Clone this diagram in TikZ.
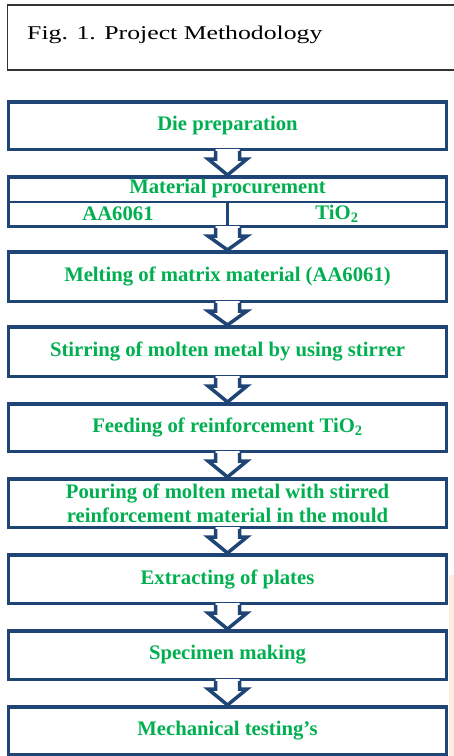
\documentclass[tikz,border=0pt]{standalone}
\usepackage{fontspec}
\setmainfont{Liberation Serif}
\usetikzlibrary{calc}
\definecolor{boxblue}{RGB}{31,68,118}
\definecolor{txtgreen}{RGB}{0,176,80}
\definecolor{peach}{RGB}{253,238,222}
\tikzset{
  boxline/.style={draw=boxblue, line width=3.5pt, line join=miter},
  stepbox/.style={boxline, fill=white, minimum width=438pt, minimum height=#1, inner sep=0pt},
  stepbox/.default=47.5pt,
  steptext/.style={text=txtgreen, font=\fontsize{20.7}{24}\selectfont\bfseries, align=center, inner sep=0pt},
  caption/.style={font=\fontsize{19.5}{23}\selectfont, anchor=base west, inner sep=0pt},
}
\newcommand\flowarr[2]{%
  \fill[white] ($(#1.south)+(-12,-2)$) -- ($(#1.south)+(-12,8)$) -- ($(#1.south)+(-19.5,8)$) -- (#2.north) -- ($(#1.south)+(19.5,8)$) -- ($(#1.south)+(12,8)$) -- ($(#1.south)+(12,-2)$) -- cycle;
  \draw[boxline] ($(#1.south)+(-12,0)$) -- ($(#1.south)+(-12,8)$) -- ($(#1.south)+(-19.5,8)$) -- (#2.north) -- ($(#1.south)+(19.5,8)$) -- ($(#1.south)+(12,8)$) -- ($(#1.south)+(12,0)$);
}
\begin{document}
\begin{tikzpicture}[x=1pt,y=-1pt]
\useasboundingbox (0,0) rectangle (454,756);
% faint background strip
\fill[peach] (449,575) rectangle (454,756);
% caption box (open at the right edge)
\draw[black!80, line width=1.2pt] (454,5) -- (7.5,5) -- (7.5,70) -- (454,70);
\node[caption] (cap) at (27,39) {\scalebox{1.32}[1]{Fig. 1. Project Methodology}};
% boxes
\node[stepbox] (b1) at (227.5,125.5) {};
\node[stepbox=49.5pt] (b2) at (227.5,201.5) {};
\node[stepbox=49.5pt] (b3) at (227.5,276.5) {};
\node[stepbox=49.5pt] (b4) at (227.5,351.5) {};
\node[stepbox=47.5pt] (b5) at (227.5,427.5) {};
\node[stepbox=48.5pt] (b6) at (227.5,503) {};
\node[stepbox=48.5pt] (b7) at (227.5,579) {};
\node[stepbox=48.5pt] (b8) at (227.5,655) {};
\node[stepbox=47.5pt] (b9) at (227.5,730.5) {};
% material procurement dividers
\coordinate (dl) at ($(b2.west)+(0,0.5)$);
\coordinate (dr) at ($(b2.east)+(0,0.5)$);
\coordinate (dm) at ($(b2.center)+(0,0.5)$);
\draw[boxblue, line width=2.5pt] (dl) -- (dr);
\draw[boxblue, line width=2.5pt] (dm) -- (b2.south);
% arrows
\flowarr{b1}{b2}
\flowarr{b2}{b3}
\flowarr{b3}{b4}
\flowarr{b4}{b5}
\flowarr{b5}{b6}
\flowarr{b6}{b7}
\flowarr{b7}{b8}
\flowarr{b8}{b9}
% texts
\node[steptext] (t1) at (b1.center) {Die preparation};
\node[steptext] (t2) at (227.5,189) {Material procurement};
\node[steptext] (t2a) at (118,214) {AA6061};
\node[steptext] (t2b) at (337,214) {TiO\textsubscript{2}};
\node[steptext] (t3) at (b3.center) {Melting of matrix material (AA6061)};
\node[steptext] (t4) at (b4.center) {Stirring of molten metal by using stirrer};
\node[steptext] (t5) at (b5.center) {Feeding of reinforcement TiO\textsubscript{2}};
\node[steptext] (t6) at (b6.center) {Pouring of molten metal with stirred\\reinforcement material in the mould};
\node[steptext] (t7) at (b7.center) {Extracting of plates};
\node[steptext] (t8) at (b8.center) {Specimen making};
\node[steptext] (t9) at (b9.center) {Mechanical testing’s};
\end{tikzpicture}
\end{document}
